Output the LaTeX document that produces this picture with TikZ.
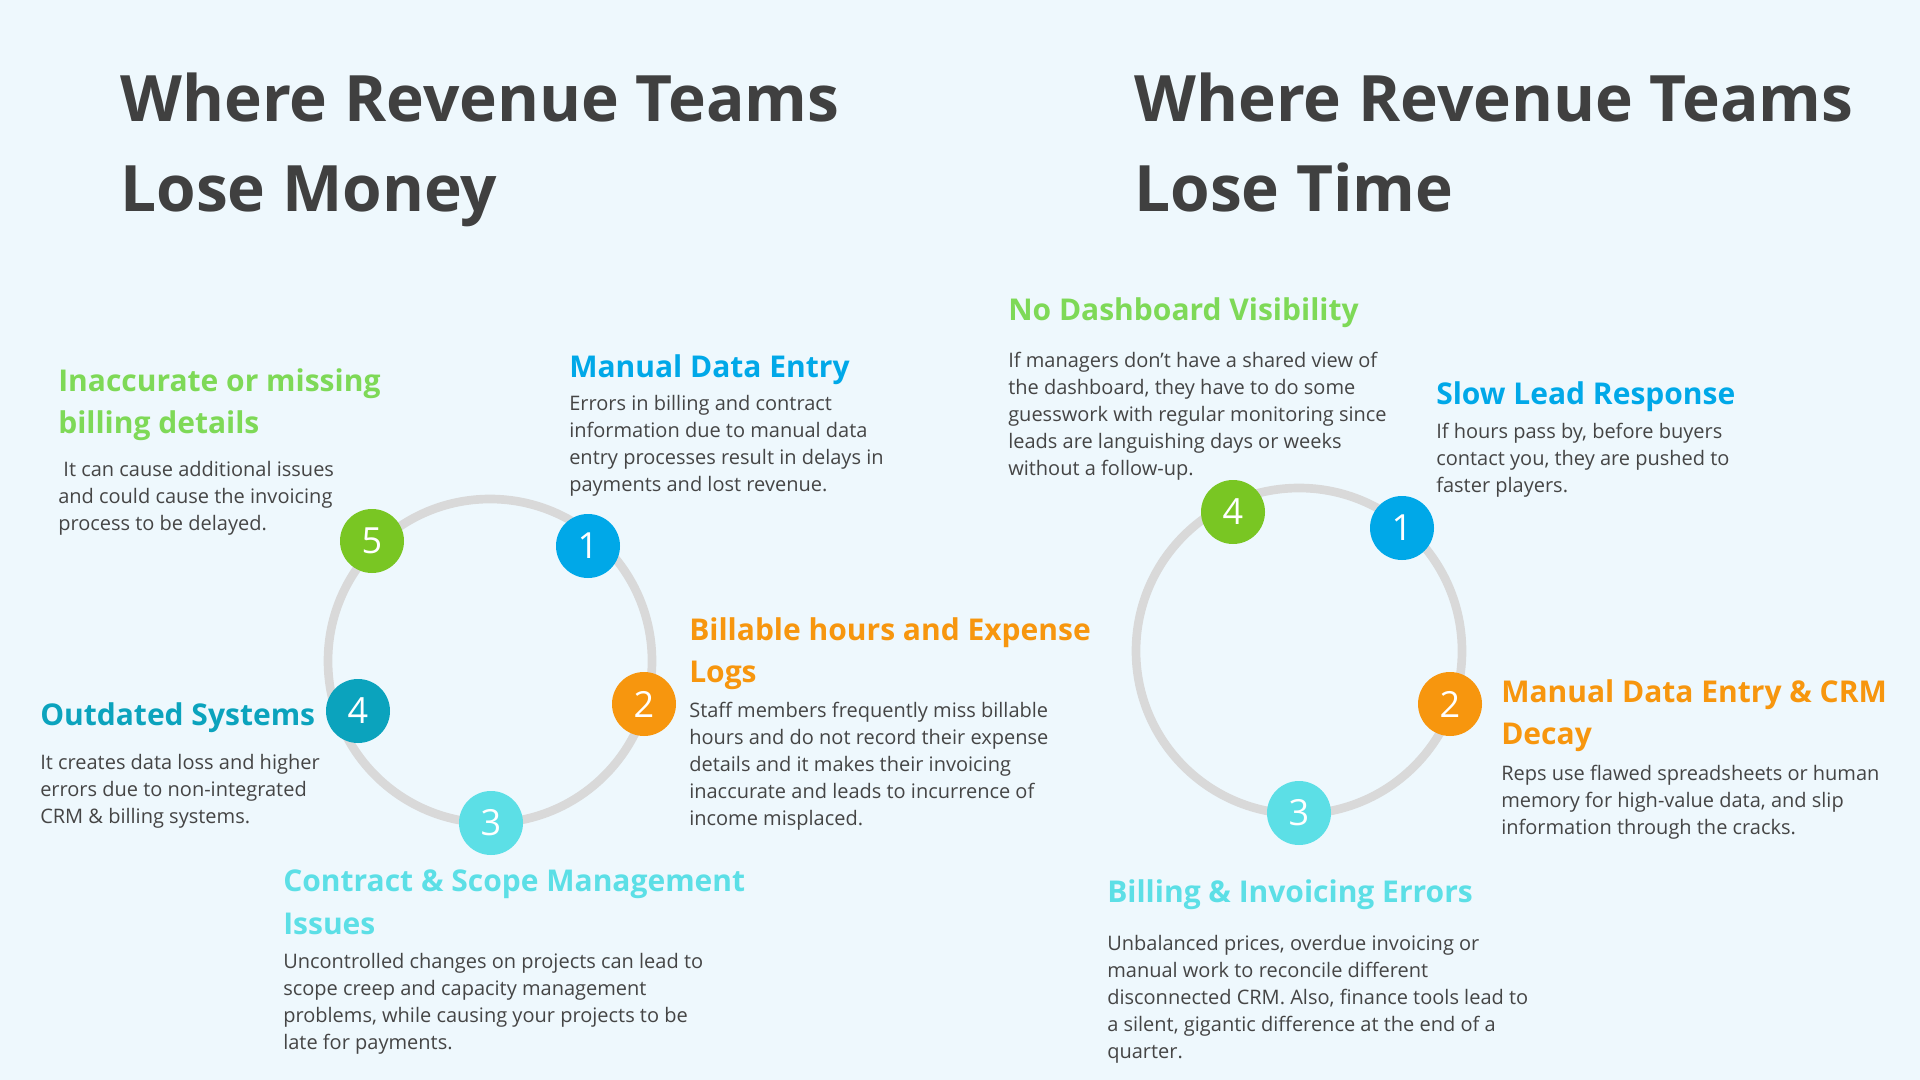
\documentclass[tikz,border=0pt]{standalone}
\usepackage{fontspec}
\setmainfont{Open Sans}
\begin{document}
\definecolor{bg}{HTML}{EEF8FD}
\definecolor{ttl}{HTML}{404040}
\definecolor{bodyc}{HTML}{454545}
\definecolor{cblue}{HTML}{00A8E8}
\definecolor{corange}{HTML}{F7960E}
\definecolor{ccyan}{HTML}{5CDFE6}
\definecolor{cteal}{HTML}{0BA3BD}
\definecolor{cgreen}{HTML}{79C623}
\definecolor{hgreen}{HTML}{7ED957}
\definecolor{ring}{HTML}{D9D9D9}
\begin{tikzpicture}[x=0.75pt,y=-0.75pt,
  title/.style={anchor=north west,inner sep=0,text=ttl,font=\fontsize{48}{67}\selectfont\bfseries,align=left},
  head/.style={anchor=north west,inner sep=0,font=\fontsize{22.5}{32}\selectfont\bfseries,align=left},
  body/.style={anchor=north west,inner sep=0,text=bodyc,font=\fontsize{15}{20.2}\selectfont,align=left},
  badge/.style={circle,minimum size=48pt,inner sep=0,text=white,font=\fontsize{27}{30}\selectfont},
  ringc/.style={draw=ring,line width=6.5pt}]
\fill[bg] (0,0) rectangle (1920,1080);
\useasboundingbox (0,0) rectangle (1920,1080);
\node[title] (t1) at (120,73) {Where Revenue Teams\\Lose Money};
\node[title] (t2) at (1134,73) {Where Revenue Teams\\Lose Time};
% left ring
\draw[ringc] (490,661) circle[radius=162];
\node[badge,fill=cblue] (l1) at (588,546) {1};
\node[badge,fill=corange] (l2) at (644,704) {2};
\node[badge,fill=ccyan] (l3) at (491,823) {3};
\node[badge,fill=cteal] (l4) at (358,711) {4};
\node[badge,fill=cgreen] (l5) at (372,541) {5};
\node[head,text=hgreen] (h5) at (58,368) {Inaccurate or missing\\billing details};
\node[body] (b5) at (58,461) {\ It can cause additional issues\\and could cause the invoicing\\process to be delayed.};
\node[head,text=cblue] (h1) at (569,354) {Manual Data Entry};
\node[body] (b1) at (569,395) {Errors in billing and contract\\information due to manual data\\entry processes result in delays in\\payments and lost revenue.};
\node[head,text=corange] (h2) at (689,617) {Billable hours and Expense\\Logs};
\node[body] (b2) at (689,702) {Staff members frequently miss billable\\hours and do not record their expense\\details and it makes their invoicing\\inaccurate and leads to incurrence of\\income misplaced.};
\node[head,text=cteal] (h4) at (40,702) {Outdated Systems};
\node[body] (b4) at (40,754) {It creates data loss and higher\\errors due to non-integrated\\CRM \& billing systems.};
\node[head,text=ccyan] (h3) at (283,870) {Contract \& Scope Management\\Issues};
\node[body] (b3) at (283,953) {Uncontrolled changes on projects can lead to\\scope creep and capacity management\\problems, while causing your projects to be\\late for payments.};
% right ring
\draw[ringc] (1299,651) circle[radius=163];
\node[badge,fill=cblue] (r1b) at (1402,528) {1};
\node[badge,fill=corange] (r2b) at (1450,704) {2};
\node[badge,fill=ccyan] (r3b) at (1299,813) {3};
\node[badge,fill=cgreen] (r4b) at (1233,512) {4};
\node[head,text=hgreen] (rh4) at (1008,297) {No Dashboard Visibility};
\node[body] (rb4) at (1008,352) {If managers don't have a shared view of\\the dashboard, they have to do some\\guesswork with regular monitoring since\\leads are languishing days or weeks\\without a follow-up.};
\node[head,text=cblue] (rh1) at (1436,381) {Slow Lead Response};
\node[body] (rb1) at (1436,423) {If hours pass by, before buyers\\contact you, they are pushed to\\faster players.};
\node[head,text=corange] (rh2) at (1501,679) {Manual Data Entry \& CRM\\Decay};
\node[body] (rb2) at (1501,765) {Reps use flawed spreadsheets or human\\memory for high-value data, and slip\\information through the cracks.};
\node[head,text=ccyan] (rh3) at (1107,879) {Billing \& Invoicing Errors};
\node[body] (rb3) at (1107,935) {Unbalanced prices, overdue invoicing or\\manual work to reconcile different\\disconnected CRM. Also, finance tools lead to\\a silent, gigantic difference at the end of a\\quarter.};
\end{tikzpicture}
\end{document}
